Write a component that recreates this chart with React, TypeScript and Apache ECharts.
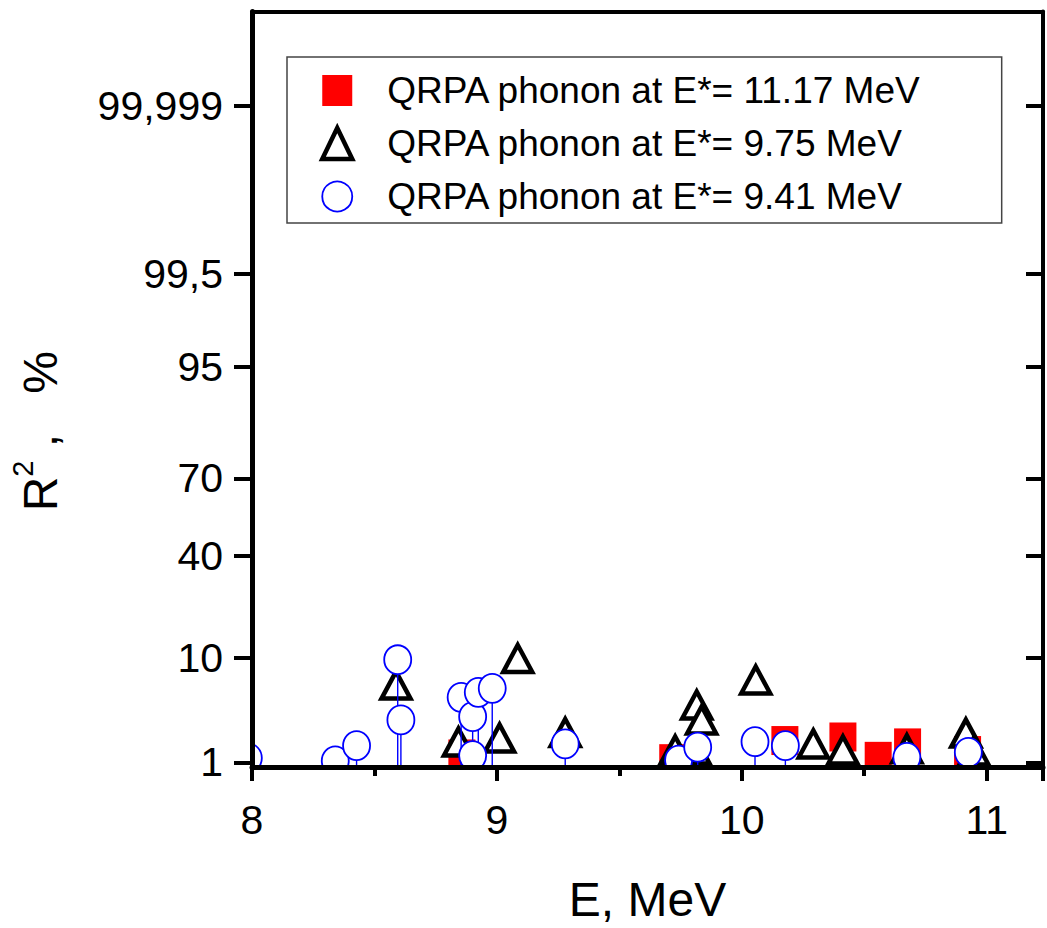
import React, { useEffect, useRef } from "react";
import * as echarts from "echarts";

// ---- data (E in MeV, R^2 in %) ----
const seriesNames = [
  "QRPA phonon at E*= 11.17 MeV",
  "QRPA phonon at E*= 9.75 MeV",
  "QRPA phonon at E*= 9.41 MeV",
];

const squareE = [8.857, 9.718, 10.176, 10.413, 10.557, 10.677, 10.922];
const squareR = [1.245, 1.1, 1.75, 1.91, 1.17, 1.65, 1.36];

const triangleE = [8.588, 8.843, 9.011, 9.085, 9.279, 9.728, 9.809, 9.816, 9.836, 10.057, 10.292, 10.413, 10.674, 10.915, 10.948];
const triangleR = [6.04, 1.69, 1.86, 9.94, 2.13, 1.38, 1.38, 3.99, 2.86, 6.67, 1.61, 1.38, 1.42, 2.1, 1.34];

const circleE = [7.985, 8.34, 8.427, 8.595, 8.608, 8.854, 8.901, 8.924, 8.981, 8.901, 9.279, 9.742, 9.82, 10.054, 10.178, 10.674, 10.925];
const circleR = [1.12, 1.04, 1.54, 9.73, 2.86, 4.7, 3.08, 5.22, 5.66, 1.19, 1.61, 1.06, 1.48, 1.7, 1.54, 1.14, 1.3];

const yTickPercents = [1, 10, 40, 70, 95, 99.5, 99.999];
const yTickLabels = ["1", "10", "40", "70", "95", "99,5", "99,999"];

const xMin = 8;
const xMax = 11.23;
const yMinPercent = 0.88;
const yMaxProbit = 5.21;

// inverse normal CDF (Acklam) -> probability axis transform
function probit(p: number): number {
  const a = [-3.969683028665376e1, 2.209460984245205e2, -2.759285104469687e2, 1.38357751867269e2, -3.066479806614716e1, 2.506628277459239];
  const b = [-5.447609879822406e1, 1.615858368580409e2, -1.556989798598866e2, 6.680131188771972e1, -1.328068155288572e1];
  const c = [-7.784894002430293e-3, -3.223964580411365e-1, -2.400758277161838, -2.549671669180469, 4.374664141464968, 2.938163982698783];
  const d = [7.784695709041462e-3, 3.224671290700398e-1, 2.445134137142996, 3.754408661907416];
  const pl = 0.02425;
  const ph = 1 - pl;
  let q: number, r: number;
  if (p < pl) {
    q = Math.sqrt(-2 * Math.log(p));
    return (((((c[0] * q + c[1]) * q + c[2]) * q + c[3]) * q + c[4]) * q + c[5]) /
      ((((d[0] * q + d[1]) * q + d[2]) * q + d[3]) * q + 1);
  }
  if (p <= ph) {
    q = p - 0.5;
    r = q * q;
    return ((((((a[0] * r + a[1]) * r + a[2]) * r + a[3]) * r + a[4]) * r + a[5]) * q) /
      (((((b[0] * r + b[1]) * r + b[2]) * r + b[3]) * r + b[4]) * r + 1);
  }
  q = Math.sqrt(-2 * Math.log(1 - p));
  return -(((((c[0] * q + c[1]) * q + c[2]) * q + c[3]) * q + c[4]) * q + c[5]) /
    ((((d[0] * q + d[1]) * q + d[2]) * q + d[3]) * q + 1);
}
const pz = (percent: number) => probit(percent / 100);

const FONT = "'Liberation Sans', Arial, sans-serif";

export default function App() {
  const ref = useRef<HTMLDivElement>(null);

  useEffect(() => {
    if (!ref.current) return;
    const chart = echarts.init(ref.current, null, { renderer: "svg" });

    const yTickZ = yTickPercents.map(pz);
    const yMin = pz(yMinPercent);
    const labelFor = (v: number) => {
      let best = 0;
      for (let i = 1; i < yTickZ.length; i++) {
        if (Math.abs(yTickZ[i] - v) < Math.abs(yTickZ[best] - v)) best = i;
      }
      return yTickLabels[best];
    };

    const sqData = squareE.map((e, i) => [e, pz(squareR[i])]);
    const trData = triangleE.map((e, i) => [e, pz(triangleR[i])]);
    const ciData = circleE.map((e, i) => [e, pz(circleR[i])]);

    const squareStyle = { color: "#ff0000" };
    const triangleStyle = { color: "#ffffff", borderColor: "#000000", borderWidth: 4.5 };
    const circleStyle = { color: "#ffffff", borderColor: "#0000ff", borderWidth: 1.8 };

    chart.setOption({
      animation: false,
      backgroundColor: "#fff",
      grid: { left: 240.5, right: 4, top: 11.5, bottom: 160, containLabel: false },
      legend: {
        orient: "vertical",
        left: 287,
        top: 57,
        padding: [15, 80, 8, 33],
        itemGap: 16,
        itemWidth: 30,
        itemHeight: 31,
        borderColor: "#444",
        borderWidth: 1.5,
        backgroundColor: "#fff",
        textStyle: { fontSize: 37, fontFamily: FONT, color: "#000", padding: [0, 0, 0, 30], lineHeight: 36 },
        data: [
          { name: seriesNames[0], icon: "rect", itemStyle: squareStyle },
          { name: seriesNames[1], icon: "triangle", itemStyle: triangleStyle },
          { name: seriesNames[2], icon: "circle", itemStyle: circleStyle },
        ],
      },
      xAxis: [
        {
          type: "value",
          min: xMin,
          max: xMax,
          interval: 1,
          z: 5,
          name: "E, MeV",
          nameLocation: "middle",
          nameGap: 108,
          nameTextStyle: { fontSize: 48, fontFamily: FONT, color: "#000" },
          axisLine: { show: true, onZero: false, lineStyle: { color: "#000", width: 5 } },
          axisTick: { show: true, inside: false, length: 14, lineStyle: { color: "#000", width: 4 } },
          minorTick: { show: true, splitNumber: 2, length: 9, lineStyle: { color: "#000", width: 4 } },
          axisLabel: { fontSize: 41, fontFamily: FONT, color: "#000", margin: 32 },
          splitLine: { show: false },
        },
        {
          type: "value",
          position: "top",
          min: xMin,
          max: xMax,
          interval: 1,
          z: 5,
          axisLine: { show: true, onZero: false, lineStyle: { color: "#000", width: 4 } },
          axisTick: { show: false },
          axisLabel: { show: false },
          splitLine: { show: false },
        },
      ],
      yAxis: [
        {
          type: "value",
          min: yMin,
          max: yMaxProbit,
          z: 5,
          name: "{r|R}{s|2}{r| ,   %}{g| }",
          nameLocation: "middle",
          nameRotate: 90,
          nameGap: 188,
          nameTextStyle: {
            color: "#000",
            fontFamily: FONT,
            rich: {
              r: { fontSize: 48, fontFamily: FONT, color: "#000", verticalAlign: "bottom", lineHeight: 56 },
              s: { fontSize: 29, fontFamily: FONT, color: "#000", verticalAlign: "top", lineHeight: 56 },
              g: { fontSize: 48, width: 84, lineHeight: 56 },
            },
          },
          axisLine: { show: true, onZero: false, lineStyle: { color: "#000", width: 5 } },
          axisTick: { show: true, inside: false, length: 18, customValues: yTickZ, lineStyle: { color: "#000", width: 4 } },
          axisLabel: {
            customValues: yTickZ,
            fontSize: 41,
            fontFamily: FONT,
            color: "#000",
            margin: 29,
            formatter: (v: number) => labelFor(v),
          },
          splitLine: { show: false },
        },
        {
          type: "value",
          position: "right",
          min: yMin,
          max: yMaxProbit,
          z: 5,
          axisLine: { show: true, onZero: false, lineStyle: { color: "#000", width: 4 } },
          axisTick: { show: true, inside: true, length: 17, customValues: yTickZ, lineStyle: { color: "#000", width: 4 } },
          axisLabel: { show: false },
          splitLine: { show: false },
        },
      ],
      series: [
        {
          name: seriesNames[0],
          type: "custom",
          clip: true,
          itemStyle: squareStyle,
          renderItem: (params: any, api: any) => {
            const c = api.coord([api.value(0), api.value(1)]);
            return {
              type: "rect",
              shape: { x: c[0] - 13.5, y: c[1] - 14.5, width: 27, height: 29 },
              style: { fill: "#ff0000" },
            };
          },
          data: sqData,
        },
        {
          name: seriesNames[1],
          type: "custom",
          clip: true,
          itemStyle: triangleStyle,
          renderItem: (params: any, api: any) => {
            const c = api.coord([api.value(0), api.value(1)]);
            const w = 29;
            const h = 27;
            return {
              type: "polygon",
              shape: {
                points: [
                  [c[0], c[1] - h / 2],
                  [c[0] + w / 2, c[1] + h / 2],
                  [c[0] - w / 2, c[1] + h / 2],
                ],
              },
              style: { fill: "#ffffff", stroke: "#000000", lineWidth: 4.5, lineJoin: "miter" },
            };
          },
          data: trData,
        },
        {
          name: "drop lines",
          type: "custom",
          clip: true,
          renderItem: (params: any, api: any) => {
            const top = api.coord([api.value(0), api.value(1)]);
            const bottom = api.coord([api.value(0), yMin]);
            return {
              type: "line",
              shape: { x1: top[0], y1: top[1], x2: bottom[0], y2: bottom[1] },
              style: { stroke: "#0000ff", lineWidth: 1.4 },
            };
          },
          data: ciData,
        },
        {
          name: seriesNames[2],
          type: "custom",
          clip: true,
          itemStyle: circleStyle,
          renderItem: (params: any, api: any) => {
            const c = api.coord([api.value(0), api.value(1)]);
            return {
              type: "ellipse",
              shape: { cx: c[0], cy: c[1], rx: 13.5, ry: 14.5 },
              style: { fill: "#ffffff", stroke: "#0000ff", lineWidth: 1.8 },
            };
          },
          data: ciData,
        },
      ],
    });

    return () => chart.dispose();
  }, []);

  return (
    <div
      ref={ref}
      style={{ position: "fixed", left: 0, top: 0, width: 1047, height: 928, background: "#fff" }}
    />
  );
}
